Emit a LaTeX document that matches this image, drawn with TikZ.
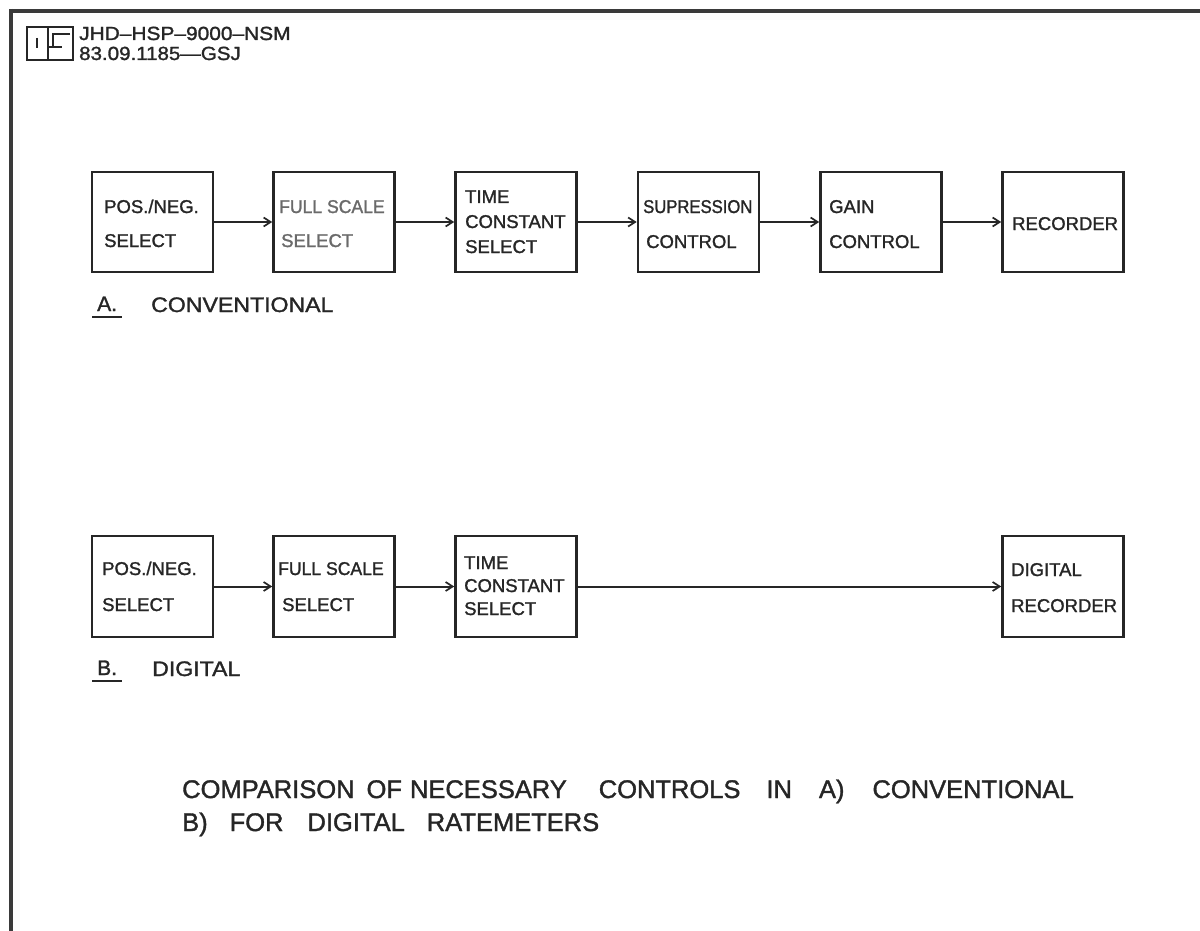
\documentclass[tikz,border=0pt]{standalone}
\usepackage{fontspec}
\setmainfont{Liberation Sans}
\newfontfamily\lett{Liberation Sans}[FakeBold=1.4]
\usetikzlibrary{arrows.meta}
\definecolor{ink}{HTML}{262626}
\definecolor{inkfaint}{HTML}{6A6A6A}
\definecolor{framecol}{HTML}{3A3A3A}
\begin{document}
\begin{tikzpicture}[x=1pt,y=-1pt,
  box/.style={draw=ink, line width=2.6pt, minimum width=121pt, minimum height=100pt, inner sep=0pt},
  lbl/.style={anchor=base west, inner sep=0pt, text=ink, font=\lett\fontsize{18.5}{18.5}\selectfont},
  sect/.style={anchor=base west, inner sep=0pt, text=ink, font=\lett\fontsize{21}{21}\selectfont},
  head/.style={anchor=base west, inner sep=0pt, text=ink, font=\lett\fontsize{19}{19}\selectfont},
  title/.style={anchor=base west, inner sep=0pt, text=ink, font=\lett\fontsize{25.5}{25.5}\selectfont},
  flow/.style={draw=ink, line width=2pt, -{Straight Barb[length=7pt,width=9pt,line width=1.7pt]}},
  logo/.style={draw=ink, line width=1.7pt}]
\useasboundingbox (0,0) rectangle (1200,931);
\fill[white] (0,0) rectangle (1200,931);
% frame
\draw[framecol, line width=4pt] (10,11) -- (1200,11);
\draw[framecol, line width=3.5pt] (11,9) -- (11,931);
% logo
\draw[logo] (27,27) rectangle (73,60);
\draw[logo] (48,27) -- (48,60);
\draw[logo] (37,38) -- (37,48);
\draw[logo] (70,34) -- (53,34) -- (53,47);
\draw[logo] (48,47) -- (62,47);
\node[head] (h1) at (79,40) {\scalebox{1.1}[1]{JHD–HSP–9000–NSM}};
\node[head] (h2) at (79,60) {\scalebox{1.08}[1]{83.09.1185—GSJ}};
% row A boxes
\node[box] (a1) at (152.5,222) {};
\node[box] (a2) at (334,222) {};
\node[box] (a3) at (516,222) {};
\node[box] (a4) at (698.5,222) {};
\node[box] (a5) at (881,222) {};
\node[box] (a6) at (1063,222) {};
% row A labels
\node[lbl] (a1t1) at (104,213) {POS./NEG.};
\node[lbl] (a1t2) at (104,247) {SELECT};
\node[lbl, text=inkfaint] (a2t1) at (279,213) {\scalebox{0.95}[1]{FULL SCALE}};
\node[lbl, text=inkfaint] (a2t2) at (281,247) {SELECT};
\node[lbl] (a3t1) at (465,203) {TIME};
\node[lbl] (a3t2) at (465,228) {CONSTANT};
\node[lbl] (a3t3) at (465,253) {SELECT};
\node[lbl] (a4t1) at (643,213) {\scalebox{0.9}[1]{SUPRESSION}};
\node[lbl] (a4t2) at (646,248) {CONTROL};
\node[lbl] (a5t1) at (829,213) {GAIN};
\node[lbl] (a5t2) at (829,248) {CONTROL};
\node[lbl] (a6t1) at (1012,230) {RECORDER};
% row A arrows
\draw[flow] (a1.east) -- (a2.west);
\draw[flow] (a2.east) -- (a3.west);
\draw[flow] (a3.east) -- (a4.west);
\draw[flow] (a4.east) -- (a5.west);
\draw[flow] (a5.east) -- (a6.west);
% section A
\node[sect] (sa) at (97,311) {A.};
\draw[ink, line width=2.2pt] (92,317) -- (122,317);
\node[sect] (sat) at (151,312) {\scalebox{1.1}[1]{CONVENTIONAL}};
% row B boxes
\node[box, minimum height=101pt] (b1) at (152.5,586.5) {};
\node[box, minimum height=101pt] (b2) at (334,586.5) {};
\node[box, minimum height=101pt] (b3) at (516,586.5) {};
\node[box, minimum height=101pt] (b6) at (1063,586.5) {};
% row B labels
\node[lbl] (b1t1) at (102,575) {POS./NEG.};
\node[lbl] (b1t2) at (102,611) {SELECT};
\node[lbl] (b2t1) at (278,575) {\scalebox{0.95}[1]{FULL SCALE}};
\node[lbl] (b2t2) at (282,611) {SELECT};
\node[lbl] (b3t1) at (464,569) {TIME};
\node[lbl] (b3t2) at (464,592) {CONSTANT};
\node[lbl] (b3t3) at (464,615) {SELECT};
\node[lbl] (b6t1) at (1011,576) {DIGITAL};
\node[lbl] (b6t2) at (1011,612) {RECORDER};
% row B arrows
\draw[flow] (b1.east) -- (b2.west);
\draw[flow] (b2.east) -- (b3.west);
\draw[flow] (b3.east) -- (b6.west);
% section B
\node[sect] (sb) at (97,675) {B.};
\draw[ink, line width=2.2pt] (92,681) -- (122,681);
\node[sect] (sbt) at (152,676) {\scalebox{1.1}[1]{DIGITAL}};
% caption
\node[title] (c1) at (182,798) {COMPARISON\hspace{12pt}OF\hspace{8pt}NECESSARY\hspace{32pt}CONTROLS\hspace{26pt}IN\hspace{27pt}A)\hspace{28pt}CONVENTIONAL};
\node[title] (c2) at (182,831) {B)\hspace{22pt}FOR\hspace{24pt}DIGITAL\hspace{22pt}RATEMETERS};
\end{tikzpicture}
\end{document}
